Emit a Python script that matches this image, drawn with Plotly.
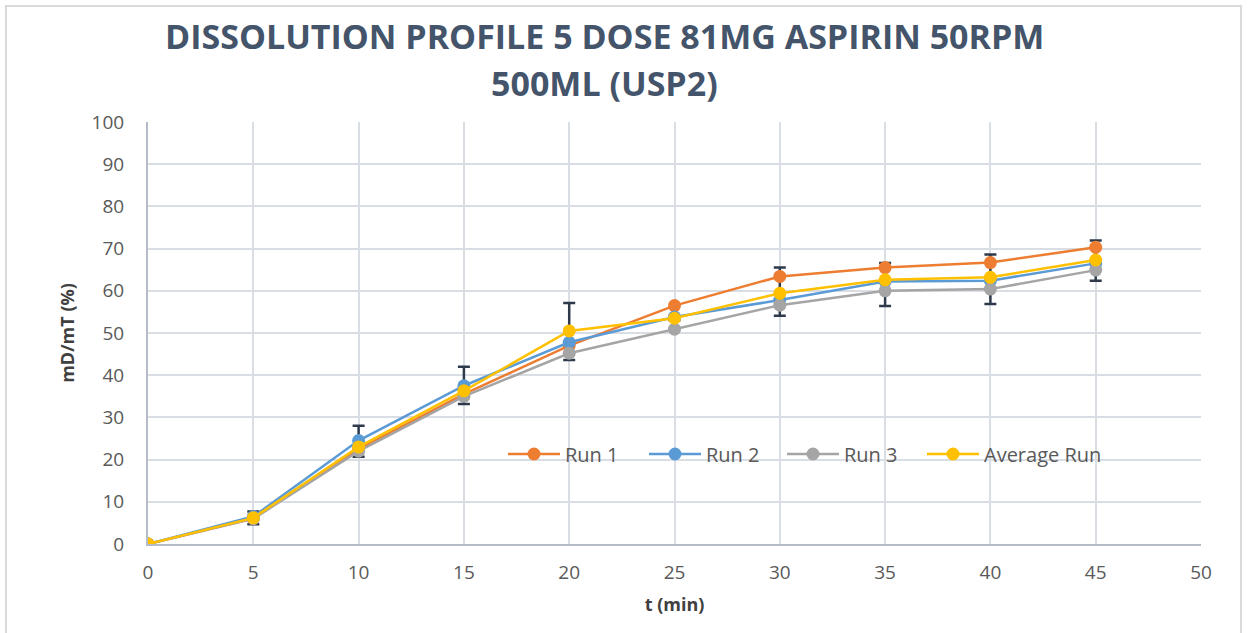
import plotly.graph_objects as go

# Sampling times (min) and % dissolved for each run
t_min = [0, 5, 10, 15, 20, 25, 30, 35, 40, 45]
run1 = [0, 6.0, 22.5, 35.5, 47.0, 56.5, 63.4, 65.5, 66.7, 70.3]
run2 = [0, 6.5, 24.5, 37.5, 47.8, 53.8, 57.8, 62.2, 62.4, 66.5]
run3 = [0, 6.0, 22.0, 35.0, 45.2, 50.9, 56.6, 60.0, 60.4, 64.9]
avg_run = [0, 6.2, 23.0, 36.3, 50.5, 53.5, 59.4, 62.6, 63.2, 67.3]
err_plus = [0, 1.5, 5.0, 5.7, 6.6, 0.5, 6.1, 4.0, 5.4, 4.6]
err_minus = [0, 1.5, 2.3, 3.1, 6.9, 0.5, 5.3, 6.2, 6.3, 4.9]

series_names = ["Run 1", "Run 2", "Run 3", "Average Run"]
series_colors = ["#ED7D31", "#5B9BD5", "#A5A5A5", "#FFC000"]

# Plot-area geometry in pixels (used to place the legend and title in paper units)
W, H = 1249, 633
L, R, T, B = 148, 48, 122, 89
PW, PH = W - L - R, H - T - B


def px_x(px):
    return (px - L) / PW


def px_y(py):
    return (H - B - py) / PH


fig = go.Figure()

# Error bars of the average, drawn first so the run markers sit above them
fig.add_trace(go.Scatter(
    x=t_min, y=avg_run, mode="markers",
    marker=dict(size=1, color="rgba(0,0,0,0)"),
    error_y=dict(type="data", symmetric=False, array=err_plus, arrayminus=err_minus,
                 color="#2E3A4B", thickness=2.5, width=6),
    showlegend=False, hoverinfo="skip",
))

for name, vals, col in zip(series_names, [run1, run2, run3, avg_run], series_colors):
    fig.add_trace(go.Scatter(
        x=t_min, y=vals, mode="lines+markers", name=name,
        line=dict(color=col, width=2.5),
        marker=dict(color=col, size=13),
        showlegend=False,
    ))

# Legend row inside the plot: line + dot symbol followed by the series name
legend_line_start = [508, 649, 787, 927]
legend_y = px_y(454)
shapes = []
annotations = []
for name, col, x0 in zip(series_names, series_colors, legend_line_start):
    shapes.append(dict(type="line", xref="paper", yref="paper",
                       x0=px_x(x0), x1=px_x(x0 + 52), y0=legend_y, y1=legend_y,
                       line=dict(color=col, width=2.5)))
    shapes.append(dict(type="circle", xref="paper", yref="paper",
                       xsizemode="pixel", ysizemode="pixel",
                       xanchor=px_x(x0 + 26), yanchor=legend_y,
                       x0=-6.5, x1=6.5, y0=-6.5, y1=6.5,
                       fillcolor=col, line=dict(color=col, width=0)))
    annotations.append(dict(text=name, xref="paper", yref="paper",
                            x=px_x(x0 + 55), y=legend_y, xanchor="left", yanchor="middle",
                            showarrow=False,
                            font=dict(family="Open Sans", size=20, color="#595959")))

# Chart border
shapes.append(dict(type="rect", xref="paper", yref="paper",
                   x0=px_x(6), x1=px_x(1241), y0=px_y(660), y1=px_y(6),
                   line=dict(color="#D9D9D9", width=2), layer="below"))

title_font = dict(family="Open Sans", size=34, color="#44546A")
annotations += [
    dict(text="<b>DISSOLUTION PROFILE 5 DOSE 81MG ASPIRIN 50RPM</b>", xref="paper", yref="paper",
         x=px_x(604), y=px_y(36), xanchor="center", yanchor="middle",
         showarrow=False, font=title_font),
    dict(text="<b>500ML (USP2)</b>", xref="paper", yref="paper",
         x=px_x(604), y=px_y(83), xanchor="center", yanchor="middle",
         showarrow=False, font=title_font),
]

tick_font = dict(family="Open Sans", size=19, color="#595959")
axis_title_font = dict(family="Open Sans", size=18, color="#404040")

fig.update_layout(
    width=W, height=H,
    margin=dict(l=L, r=R, t=T, b=B),
    paper_bgcolor="white", plot_bgcolor="white",
    font=dict(family="Open Sans"),
    showlegend=False,
    xaxis=dict(range=[0, 50], dtick=5, tick0=0, showgrid=True, gridcolor="#D9DDE4", gridwidth=1.5,
               showline=True, linecolor="#B4BCCA", linewidth=2, zeroline=False,
               tickfont=tick_font, ticks="", ticklabelstandoff=10,
               title=dict(text="<b>t (min)</b>", font=axis_title_font, standoff=15)),
    yaxis=dict(range=[0, 100], dtick=10, tick0=0, showgrid=True, gridcolor="#D9DDE4", gridwidth=1.5,
               showline=True, linecolor="#B4BCCA", linewidth=2, zeroline=False,
               tickfont=tick_font, ticks="", ticklabelstandoff=18,
               title=dict(text="<b>mD/mT (%)</b>", font=axis_title_font, standoff=12)),
    annotations=annotations,
    shapes=shapes,
)

fig.write_html("out.html")
